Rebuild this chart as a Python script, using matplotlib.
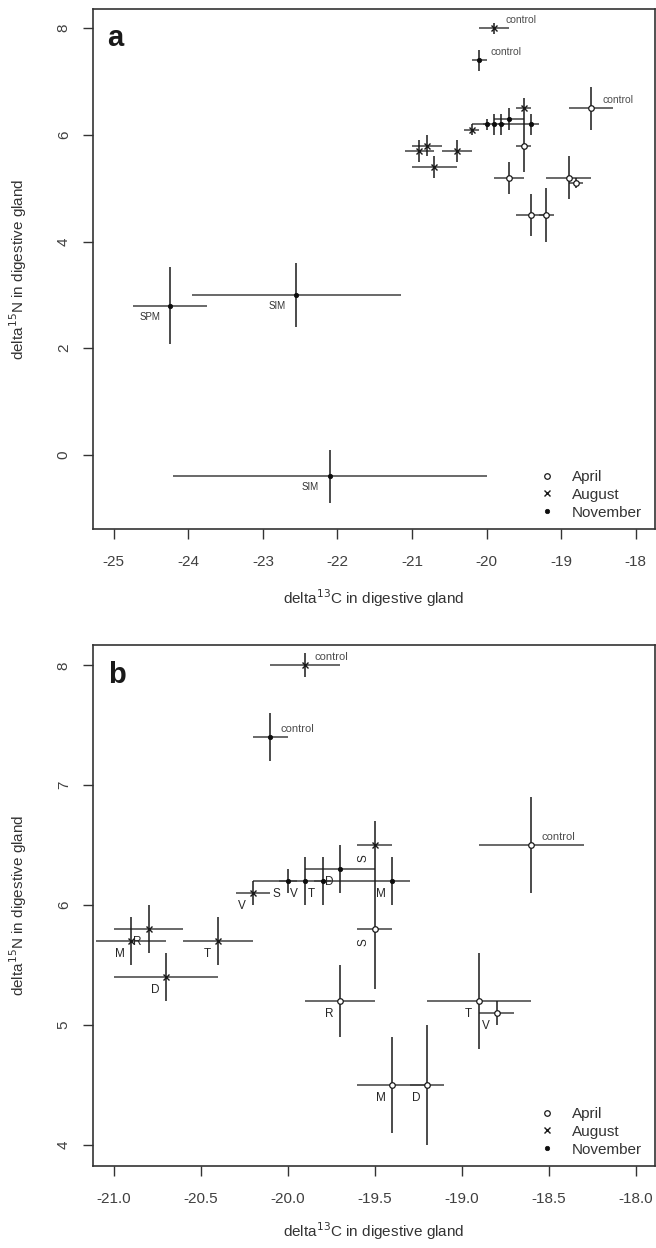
import numpy as np
import matplotlib
matplotlib.use('Agg')
import matplotlib.pyplot as plt
from matplotlib.lines import Line2D

plt.rcParams['font.family'] = ['Liberation Sans', 'DejaVu Sans']
plt.rcParams['axes.unicode_minus'] = False

# mussel sites, shared by both panels
site = ['control', 'control', 'control', 'S', 'D', 'S', 'V', 'T', 'M', 'V',
        'S', 'R', 'M', 'T', 'D', 'R', 'T', 'V', 'M', 'D']
month = ['August', 'November', 'April', 'August', 'November', 'November', 'November',
         'November', 'November', 'August', 'April', 'August', 'August', 'August',
         'August', 'April', 'April', 'April', 'April', 'April']
d13c = [-19.9, -20.1, -18.6, -19.5, -19.7, -20.0, -19.9, -19.8, -19.4, -20.2,
        -19.5, -20.8, -20.9, -20.4, -20.7, -19.7, -18.9, -18.8, -19.4, -19.2]
d15n = [8.0, 7.4, 6.5, 6.5, 6.3, 6.2, 6.2, 6.2, 6.2, 6.1,
        5.8, 5.8, 5.7, 5.7, 5.4, 5.2, 5.2, 5.1, 4.5, 4.5]
c_err_lo = [0.2, 0.1, 0.3, 0.1, 0.2, 0.05, 0.3, 0.05, 0.1, 0.1,
            0.1, 0.2, 0.2, 0.2, 0.3, 0.2, 0.3, 0.1, 0.2, 0.1]
c_err_hi = [0.2, 0.1, 0.3, 0.1, 0.2, 0.05, 0.4, 0.05, 0.1, 0.1,
            0.1, 0.2, 0.2, 0.2, 0.3, 0.2, 0.3, 0.1, 0.2, 0.1]
n_err = [0.1, 0.2, 0.4, 0.2, 0.2, 0.1, 0.2, 0.2, 0.2, 0.1,
         0.5, 0.2, 0.2, 0.2, 0.2, 0.3, 0.4, 0.1, 0.4, 0.5]

# particulate matter, panel a only
pm_name = ['SPM', 'SIM', 'SIM']
pm_c = [-24.25, -22.55, -22.1]
pm_n = [2.8, 3.0, -0.4]
pm_c_err = [0.5, 1.4, 2.1]
pm_n_err = [0.72, 0.6, 0.5]

months = ['April', 'August', 'November']
mstyle = {'April': dict(marker='o', mfc='white', mec='0.1', ms=4, mew=0.9),
          'August': dict(marker='x', mec='0.1', ms=4.5, mew=1.0),
          'November': dict(marker='o', mfc='0.05', mec='0.05', ms=3.2, mew=0.5)}

xlab = 'delta$^{13}$C in digestive gland'
ylab = 'delta$^{15}$N in digestive gland'
tc = '0.25'


def draw_sites(ax):
    ax.errorbar(d13c, d15n, xerr=[c_err_lo, c_err_hi], fmt='none',
                ecolor='0.25', elinewidth=1.1, capsize=0, zorder=2)
    ax.errorbar(d13c, d15n, yerr=n_err, fmt='none',
                ecolor='0.1', elinewidth=1.1, capsize=0, zorder=2)
    x = np.array(d13c)
    y = np.array(d15n)
    m = np.array(month)
    for mo in months:
        sel = m == mo
        ax.plot(x[sel], y[sel], ls='none', zorder=3, **mstyle[mo])


def style(ax):
    for s in ax.spines.values():
        s.set_linewidth(1.2)
        s.set_color('0.2')
    ax.tick_params(direction='out', length=7, width=1, colors='0.2',
                   labelcolor=tc, labelsize=11, top=False, right=False)
    ax.tick_params(axis='x', pad=12)
    ax.tick_params(axis='y', pad=9)
    for t in ax.get_yticklabels():
        t.set_rotation(90)
        t.set_va('center')
        t.set_ha('right')
    ax.set_xlabel(xlab, fontsize=11, color='0.2')
    ax.set_ylabel(ylab, fontsize=11, color='0.2')
    ax.yaxis.set_label_coords(-0.114, 0.5)
    handles = [Line2D([], [], ls='none', **mstyle[mo]) for mo in months]
    ax.legend(handles, months, loc='lower left', bbox_to_anchor=(0.795, 0.018),
              frameon=False, fontsize=11, handlelength=1.0, handletextpad=1.1,
              labelspacing=0.25, borderpad=0, borderaxespad=0, labelcolor='0.2')


fig = plt.figure(figsize=(6.56, 12.48), dpi=100)
axa = fig.add_axes([93 / 656, 1 - 529 / 1248, 562 / 656, 520 / 1248])
axb = fig.add_axes([93 / 656, 1 - 1166 / 1248, 562 / 656, 521 / 1248])

# panel a
draw_sites(axa)
axa.errorbar(pm_c, pm_n, xerr=pm_c_err, fmt='none', ecolor='0.25',
             elinewidth=1.1, capsize=0, zorder=2)
axa.errorbar(pm_c, pm_n, yerr=pm_n_err, fmt='none', ecolor='0.1',
             elinewidth=1.1, capsize=0, zorder=2)
axa.plot(pm_c, pm_n, ls='none', zorder=3, **mstyle['November'])
for nm, cx, ny in zip(pm_name, pm_c, pm_n):
    axa.annotate(nm, (cx, ny), xytext=(-14, -8), textcoords='offset points',
                 ha='center', va='center', fontsize=7, color='0.2')
for nm, cx, ny in zip(site, d13c, d15n):
    if nm == 'control':
        axa.annotate(nm, (cx, ny), xytext=(8, 6), textcoords='offset points',
                     ha='left', va='center', fontsize=7.5, color='0.3')
axa.set_xlim(-25.28, -17.74)
axa.set_ylim(-1.39, 8.36)
axa.set_xticks(np.arange(-25, -17.5, 1))
axa.set_xticklabels(['%d' % v for v in np.arange(-25, -17.5, 1)])
axa.set_yticks([0, 2, 4, 6, 8])
style(axa)
axa.xaxis.set_label_coords(0.5, -0.112)
axa.text(0.04, 0.945, 'a', transform=axa.transAxes, ha='center', va='center',
         fontsize=21, fontweight='bold', color='0.1')

# panel b
draw_sites(axb)
for i, (nm, cx, ny) in enumerate(zip(site, d13c, d15n)):
    if nm == 'control':
        axb.annotate(nm, (cx, ny), xytext=(7, 6), textcoords='offset points',
                     ha='left', va='center', fontsize=8, color='0.3')
    else:
        rot = 90 if i in (3, 10) else 0
        axb.annotate(nm, (cx, ny), xytext=(-8, -9), textcoords='offset points',
                     ha='center', va='center', fontsize=8.5, color='0.15',
                     rotation=rot)
axb.set_xlim(-21.12, -17.89)
axb.set_ylim(3.825, 8.17)
xt = np.arange(-21, -17.9, 0.5)
axb.set_xticks(xt)
axb.set_xticklabels(['%.1f' % v for v in xt])
axb.set_yticks([4, 5, 6, 7, 8])
style(axb)
axb.xaxis.set_label_coords(0.5, -0.105)
axb.text(0.043, 0.942, 'b', transform=axb.transAxes, ha='center', va='center',
         fontsize=21, fontweight='bold', color='0.1')

fig.savefig('out.png', dpi=100)
